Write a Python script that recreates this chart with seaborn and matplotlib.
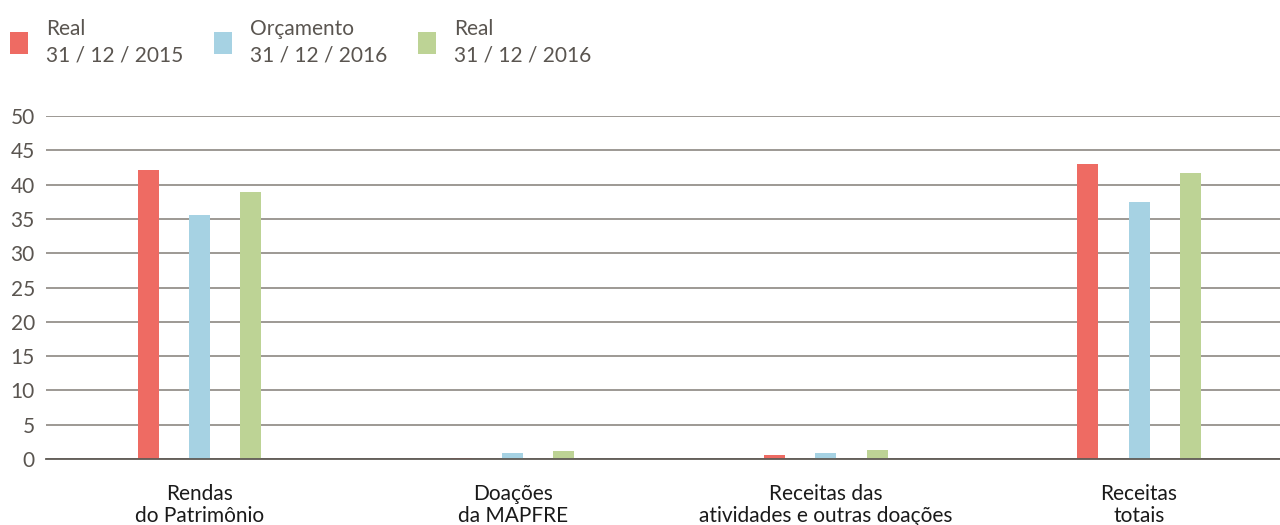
import pandas as pd
import matplotlib
matplotlib.use("Agg")
import matplotlib.pyplot as plt
import seaborn as sns

# Data
categories = [
    "Rendas\ndo Patrimônio",
    "Doações\nda MAPFRE",
    "Receitas das\natividades e outras doações",
    "Receitas\ntotais",
]
series = ["Real\n31 / 12 / 2015", "Orçamento\n31 / 12 / 2016", "Real\n31 / 12 / 2016 "]
real_2015 = [42.1, 0.2, 0.6, 43.0]
orcamento_2016 = [35.6, 0.9, 0.9, 37.5]
real_2016 = [38.9, 1.2, 1.3, 41.7]
colors = ["#ee6b63", "#a6d2e3", "#bdd395"]
y_ticks = [0, 5, 10, 15, 20, 25, 30, 35, 40, 45, 50]

df = pd.DataFrame({
    "categoria": categories * 3,
    "serie": [series[0]] * 4 + [series[1]] * 4 + [series[2]] * 4,
    "valor": real_2015 + orcamento_2016 + real_2016,
})

sns.set_style("white")
plt.rcParams["font.family"] = ["Lato", "DejaVu Sans"]

fig = plt.figure(figsize=(12.8, 5.25), dpi=100)
ax = fig.add_axes([46 / 1280, 1 - 459 / 525, 1 - 46 / 1280, (459 - 116) / 525])

sns.barplot(data=df, x="categoria", y="valor", hue="serie", palette=colors,
            width=0.49, gap=0.59, ax=ax, saturation=1, linewidth=0)

ax.set_ylim(0, 50)
ax.set_xlim(-0.49, 3.45)
ax.set_yticks(y_ticks)
ax.set_yticklabels([str(t) for t in y_ticks], color="#5a5550", fontsize=15)
ax.yaxis.grid(True, color="#8c8782", linewidth=1.2)
ax.set_axisbelow(True)
for s in ["top", "right", "left"]:
    ax.spines[s].set_visible(False)
ax.spines["bottom"].set_color("#5f5a55")
ax.spines["bottom"].set_linewidth(1.3)
ax.tick_params(axis="y", length=0, pad=8)
ax.tick_params(axis="x", length=0, pad=18, labelsize=15, labelcolor="#1a1a1a")
for lbl in ax.get_xticklabels():
    lbl.set_linespacing(1.15)
ax.set_xlabel("")
ax.set_ylabel("")

sns.move_legend(ax, "upper left", bbox_to_anchor=(10 / 1280, 1 - 19 / 525),
                bbox_transform=fig.transFigure, ncol=3, frameon=False,
                title=None, fontsize=15, handlelength=0.85, handleheight=1.2,
                handletextpad=0.9, columnspacing=1.45, borderpad=0,
                borderaxespad=0, labelcolor="#5a5550")
for t in ax.get_legend().get_texts():
    t.set_linespacing(1.4)

fig.savefig("out.png", dpi=100)
